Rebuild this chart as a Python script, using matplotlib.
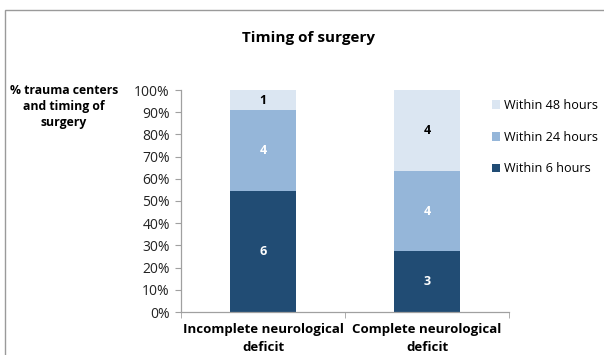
import matplotlib.pyplot as plt
from matplotlib.patches import Rectangle
from matplotlib.ticker import FuncFormatter, FixedLocator

categories = ["Incomplete neurological\ndeficit", "Complete neurological\ndeficit"]
series = ["Within 6 hours", "Within 24 hours", "Within 48 hours"]
counts = {
    "Within 6 hours": [6, 3],
    "Within 24 hours": [4, 4],
    "Within 48 hours": [1, 4],
}
colors = {
    "Within 6 hours": "#214c74",
    "Within 24 hours": "#95b6d9",
    "Within 48 hours": "#dbe6f2",
}
label_colors = {
    "Within 6 hours": "white",
    "Within 24 hours": "white",
    "Within 48 hours": "black",
}

plt.rcParams["font.family"] = ["Open Sans", "DejaVu Sans"]

fig = plt.figure(figsize=(6.04, 3.55), dpi=100)
# outer chart frame
fig.patches.append(Rectangle((5 / 604, -0.1), 1.2, 1 - 10 / 355 + 0.1,
                             transform=fig.transFigure, fill=False,
                             edgecolor="#9a9a9a", linewidth=1.0))

ax = fig.add_axes([181 / 604, 1 - 312 / 355, 328 / 604, 222 / 355])

totals = [sum(counts[s][i] for s in series) for i in range(len(categories))]
x = list(range(len(categories)))
bottoms = [0.0] * len(categories)
handles = {}
for s in series:
    pct = [counts[s][i] / totals[i] * 100 for i in x]
    bars = ax.bar(x, pct, width=0.4, bottom=bottoms, color=colors[s],
                  label=s, edgecolor="none")
    handles[s] = bars
    for i in x:
        ax.text(i, bottoms[i] + pct[i] / 2, str(counts[s][i]), ha="center",
                va="center", fontsize=9, fontweight="bold",
                color=label_colors[s])
    bottoms = [b + p for b, p in zip(bottoms, pct)]

ax.set_xlim(-0.5, 1.5)
ax.set_ylim(0, 100)
ax.set_yticks(range(0, 101, 10))
ax.yaxis.set_major_formatter(FuncFormatter(lambda v, _: f"{int(v)}%"))
ax.set_xticks(x)
ax.set_xticklabels(categories, fontsize=9.5, fontweight="bold",
                   linespacing=1.45)
ax.xaxis.set_minor_locator(FixedLocator([-0.5, 0.5, 1.5]))
ax.tick_params(axis="x", which="major", length=0, pad=8)
ax.tick_params(axis="x", which="minor", length=4, color="#a0a0a0")
ax.tick_params(axis="y", length=4, color="#a0a0a0", labelsize=10,
               labelcolor="#222222", pad=4)
for side in ["top", "right"]:
    ax.spines[side].set_visible(False)
for side in ["left", "bottom"]:
    ax.spines[side].set_color("#a0a0a0")
    ax.spines[side].set_linewidth(0.9)

fig.text(308 / 604, 1 - 38 / 355, "Timing of surgery", ha="center",
         va="center", fontsize=11, fontweight="bold")
fig.text(64 / 604, 1 - 84 / 355, "% trauma centers\nand timing of\nsurgery",
         ha="center", va="top", fontsize=8.8, fontweight="bold",
         linespacing=1.3)

leg = fig.legend([handles[s] for s in reversed(series)], list(reversed(series)),
                 loc="upper left", bbox_to_anchor=(484 / 604, 1 - 91 / 355),
                 frameon=False, fontsize=9.1, handlelength=0.7,
                 handleheight=0.7, handletextpad=0.3, labelspacing=1.5,
                 borderaxespad=0.2)

fig.savefig("out.png", dpi=100)
